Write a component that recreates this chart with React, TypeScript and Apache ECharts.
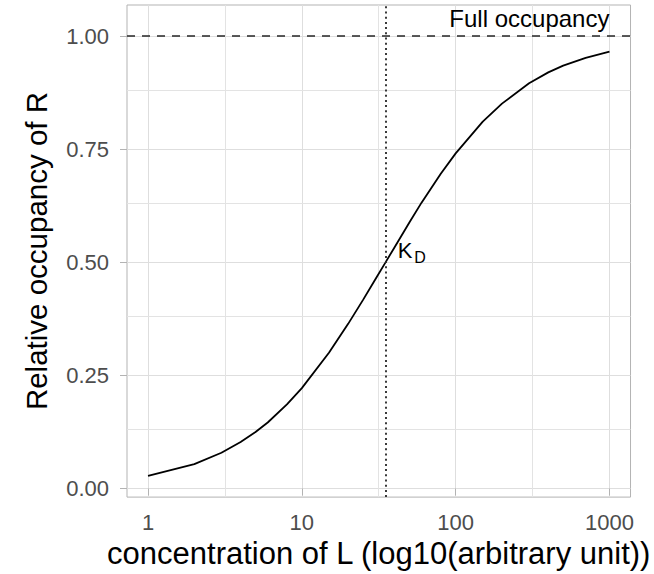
import React, { useEffect, useRef } from "react";
import * as echarts from "echarts";

// Concentrations of L (arbitrary unit) and relative occupancy of R
const concentration = [1, 2, 3, 4, 5, 6, 8, 10, 15, 20, 25, 30, 35, 40, 50, 60, 80, 100, 150, 200, 300, 400, 500, 700, 1000];
const occupancy = [0.028, 0.054, 0.079, 0.103, 0.125, 0.146, 0.186, 0.222, 0.3, 0.364, 0.417, 0.462, 0.5, 0.533, 0.588, 0.632, 0.696, 0.741, 0.811, 0.851, 0.896, 0.92, 0.935, 0.952, 0.966];

const xTicks = [1, 10, 100, 1000];
const xTickLabels = ["1", "10", "100", "1000"];
const xMinorBreaks = [3.162, 31.62, 316.2];
const yTicks = [0, 0.25, 0.5, 0.75, 1];
const yTickLabels = ["0.00", "0.25", "0.50", "0.75", "1.00"];
const yMinorBreaks = [0.125, 0.375, 0.625, 0.875];

const kd = 35;
const fullOccupancy = 1;
const fullLabel = "Full occupancy";
const fullLabelPos = [1000, 1.039];
const kdLabelPos = [42, 0.55];

const xTitle = "concentration of L (log10(arbitrary unit))";
const yTitle = "Relative occupancy of R";

const FONT = "'Liberation Sans', Arial, Helvetica, sans-serif";

function labelFor(v: number, ticks: number[], labels: string[]) {
  for (let i = 0; i < ticks.length; i++) {
    const t = ticks[i];
    if (Math.abs(v - t) <= Math.max(1e-9, Math.abs(t) * 1e-6)) return labels[i];
  }
  return "";
}

export default function App() {
  const ref = useRef<HTMLDivElement>(null);
  useEffect(() => {
    if (!ref.current) return;
    const chart = echarts.init(ref.current, undefined, { renderer: "svg" });
    const option: any = {
      animation: false,
      backgroundColor: "#ffffff",
      textStyle: { fontFamily: FONT },
      grid: {
        left: 127,
        right: 23,
        top: 5,
        bottom: 72,
        show: true,
        borderColor: "#b3b3b3",
        borderWidth: 1,
        backgroundColor: "transparent",
        containLabel: false,
      },
      xAxis: {
        type: "log",
        logBase: 10,
        min: 0.73,
        max: 1370,
        axisLine: { show: false },
        axisTick: {
          show: true,
          length: 7,
          customValues: xTicks,
          lineStyle: { color: "#b3b3b3", width: 1 },
        },
        axisLabel: {
          customValues: xTicks,
          formatter: (v: number) => labelFor(v, xTicks, xTickLabels),
          fontSize: 22,
          color: "#4d4d4d",
          margin: 14,
          fontFamily: FONT,
        },
        splitLine: { show: true, lineStyle: { color: "#dedede", width: 1 } },
        name: xTitle,
        nameLocation: "middle",
        nameGap: 40,
        nameTextStyle: { fontSize: 31, color: "#000000", fontFamily: FONT },
      },
      yAxis: {
        type: "value",
        min: -0.019,
        max: 1.069,
        axisLine: { show: false },
        axisTick: {
          show: true,
          length: 7,
          customValues: yTicks,
          lineStyle: { color: "#b3b3b3", width: 1 },
        },
        axisLabel: {
          customValues: yTicks,
          formatter: (v: number) => labelFor(v, yTicks, yTickLabels),
          fontSize: 22,
          color: "#4d4d4d",
          margin: 18,
          fontFamily: FONT,
        },
        splitLine: { show: true, lineStyle: { color: "#dedede", width: 1 } },
        name: yTitle,
        nameLocation: "middle",
        nameGap: 76,
        nameTextStyle: { fontSize: 29.5, color: "#000000", fontFamily: FONT },
      },
      series: [
        {
          name: "minorGrid",
          type: "line",
          data: [],
          silent: true,
          z: 1,
          markLine: {
            z: 1,
            silent: true,
            animation: false,
            symbol: ["none", "none"],
            label: { show: false },
            lineStyle: { color: "#e3e3e3", width: 1, type: "solid" },
            emphasis: { disabled: true },
            data: [
              ...xMinorBreaks.map((v) => ({ xAxis: v })),
              ...yMinorBreaks.map((v) => ({ yAxis: v })),
            ],
          },
        },
        {
          name: "occupancy",
          type: "line",
          z: 3,
          data: concentration.map((c, i) => [c, occupancy[i]]),
          showSymbol: false,
          symbol: "none",
          smooth: false,
          lineStyle: { color: "#000000", width: 1.8 },
          silent: true,
        },
        {
          name: "refs",
          type: "line",
          data: [],
          z: 4,
          silent: true,
          markLine: {
            z: 4,
            silent: true,
            animation: false,
            symbol: ["none", "none"],
            label: { show: false },
            emphasis: { disabled: true },
            data: [
              {
                yAxis: fullOccupancy,
                lineStyle: { color: "#262626", width: 1.7, type: [8, 7] },
              },
              {
                xAxis: kd,
                lineStyle: { color: "#262626", width: 1.8, type: [2, 3.2] },
              },
            ],
          },
          markPoint: {
            z: 5,
            silent: true,
            animation: false,
            symbol: "circle",
            symbolSize: 0.1,
            itemStyle: { color: "rgba(0,0,0,0)" },
            data: [
              {
                coord: fullLabelPos,
                label: {
                  show: true,
                  position: [0, 0],
                  align: "right",
                  verticalAlign: "middle",
                  formatter: fullLabel,
                  fontSize: 24,
                  color: "#000000",
                  fontFamily: FONT,
                },
              },
              {
                coord: kdLabelPos,
                label: {
                  show: true,
                  position: [0, 0],
                  align: "left",
                  verticalAlign: "top",
                  formatter: "{k|K}{d|D}",
                  rich: {
                    k: { fontSize: 22, lineHeight: 22, color: "#000000", fontFamily: FONT, verticalAlign: "top" },
                    d: { fontSize: 16, lineHeight: 16, color: "#000000", fontFamily: FONT, verticalAlign: "top", padding: [10, 0, 0, 2] },
                  },
                },
              },
            ],
          },
        },
      ],
    };
    chart.setOption(option);
    return () => chart.dispose();
  }, []);
  return (
    <div
      ref={ref}
      style={{ position: "fixed", left: 0, top: 0, width: 654, height: 574, background: "#ffffff" }}
    />
  );
}
